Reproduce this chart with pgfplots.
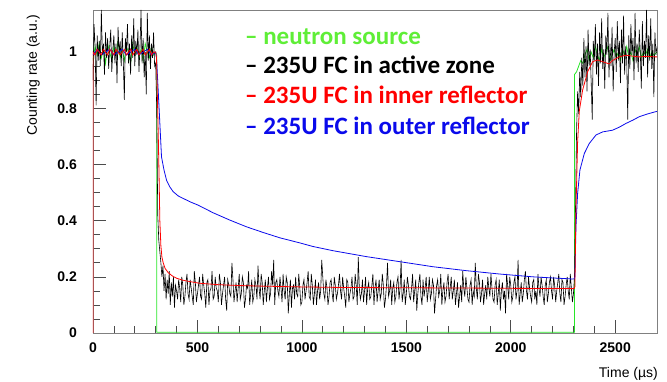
\documentclass[border=0pt]{standalone}
\usepackage{pgfplots}
\pgfplotsset{compat=1.18}
\usepackage{fontspec}
\setmainfont{Liberation Sans}
\newfontfamily\legfont{Carlito}
\definecolor{lgreen}{RGB}{40,230,40}
\definecolor{leggreen}{RGB}{95,238,55}
\definecolor{lblue}{RGB}{10,10,235}
\definecolor{lred}{RGB}{255,0,0}
\begin{document}
\begin{tikzpicture}
\path[use as bounding box] (-93pt,-49pt) rectangle (574pt,333pt);
\begin{axis}[
  at={(0,0)}, anchor=south west,
  scale only axis, width=564pt, height=323pt,
  xmin=0, xmax=2700, ymin=0, ymax=1.15,
  xtick={0,500,1000,1500,2000,2500},
  xticklabels={0,500,1000,1500,2000,2500},
  ytick={0,0.2,0.4,0.6,0.8,1},
  yticklabels={0,0.2,0.4,0.6,0.8,1},
  minor x tick num=4, minor y tick num=3,
  tick align=inside, xtick pos=bottom, ytick pos=left,
  major tick length=13pt, minor tick length=7pt,
  tick style={black!70, line width=0.6pt},
  axis line style={black!50, line width=0.8pt},
  xticklabel style={font=\fontsize{14}{14}\selectfont\bfseries, anchor=north, inner sep=0pt, yshift=-10pt},
  yticklabel style={font=\fontsize{14}{14}\selectfont\bfseries, anchor=east, inner sep=0pt, xshift=-16pt},
  /pgf/number format/assume math mode=true,
  xlabel={Time (µs)},
  xlabel style={at={(axis description cs:1.0018,-0.1393)}, anchor=base east, inner sep=0pt, font=\fontsize{14}{14}\selectfont},
  ylabel={Counting rate (a.u.)},
  ylabel style={at={(axis description cs:-0.0993,0.985)}, anchor=base east, inner sep=0pt, font=\fontsize{14}{14}\selectfont},
]
% neutron source
\addplot[lgreen, line width=0.8pt] coordinates {
(0,0.97) (10,1.02) (20,0.99) (30,1.03) (40,0.98) (50,1.01) (60,0.96) (70,1.03) (80,1.00) (90,0.97)
(100,1.02) (110,0.99) (120,1.04) (130,0.98) (140,1.01) (150,0.97) (160,1.02) (170,1.00) (180,0.96) (190,1.03)
(200,0.99) (210,1.02) (220,0.98) (230,1.01) (240,0.97) (250,1.03) (260,1.00) (270,0.98) (280,1.02) (290,0.99)
(300,1.00) (305,0.99) (305,0.003) (800,0.003) (1500,0.003) (2305,0.003)
(2305,0.92) (2315,0.93) (2325,0.95) (2335,0.97) (2345,0.96) (2355,0.99) (2365,1.01) (2375,0.97) (2385,1.00)
(2395,0.98) (2405,1.02) (2415,0.99) (2425,0.97) (2435,1.01) (2445,0.98) (2455,1.00) (2465,1.02) (2475,0.97)
(2485,0.99) (2495,1.01) (2505,0.98) (2515,1.00) (2525,0.97) (2535,1.01) (2545,0.99) (2555,1.02) (2565,0.98)
(2575,1.00) (2585,0.97) (2595,1.01) (2605,0.99) (2615,1.02) (2625,0.98) (2635,1.00) (2645,0.99) (2655,1.01)
(2665,0.98) (2675,1.00) (2685,0.99) (2700,1.00)
};
% active zone
\addplot[black, line width=0.6pt] coordinates {
(0,0.90) (5,1.10) (10,1.02) (15,0.81) (20,1.06) (25,0.97) (30,1.04) (35,0.95) (40,1.15) (45,0.99)
(50,1.03) (55,0.92) (60,1.07) (65,0.98) (70,1.05) (75,0.94) (80,1.02) (85,1.08) (90,0.93) (95,1.01)
(100,1.06) (105,0.96) (110,1.03) (115,0.89) (120,1.09) (125,0.99) (130,1.04) (135,0.95) (140,1.07) (145,0.97)
(150,0.83) (155,1.05) (160,1.00) (165,1.10) (170,0.96) (175,1.03) (180,0.92) (185,1.06) (190,0.98) (195,1.12)
(200,0.95) (205,1.04) (210,0.99) (215,1.08) (220,0.93) (225,1.02) (230,1.15) (235,0.96) (240,1.05) (245,0.91)
(250,1.00) (255,0.85) (260,1.14) (265,0.97) (270,1.06) (275,0.94) (280,1.03) (285,0.98) (290,1.07) (295,0.95)
(300,0.96) (305,0.80) (310,0.42) (315,0.33) (320,0.29) (325,0.25) (330,0.20) (335,0.24) (340,0.15) (345,0.21)
(350,0.12) (355,0.19) (360,0.14) (365,0.22) (370,0.10) (375,0.18) (380,0.13) (385,0.20) (390,0.09) (395,0.17)
(400,0.15) (405,0.12) (410,0.19) (415,0.16) (420,0.11) (425,0.20) (430,0.17) (435,0.10) (440,0.13) (445,0.18) (450,0.21) (455,0.14) (460,0.12) (465,0.19) (470,0.16) (475,0.13) (480,0.10) (485,0.22) (490,0.18) (495,0.11)
(500,0.14) (505,0.17) (510,0.20) (515,0.13) (520,0.12) (525,0.21) (530,0.17) (535,0.14) (540,0.09) (545,0.18) (550,0.19) (555,0.10) (560,0.15) (565,0.16) (570,0.22) (575,0.12) (580,0.13) (585,0.20) (590,0.16) (595,0.15)
(600,0.11) (605,0.21) (610,0.18) (615,0.10) (620,0.14) (625,0.17) (630,0.20) (635,0.12) (640,0.08) (645,0.19) (650,0.17) (655,0.14) (660,0.13) (665,0.25) (670,0.19) (675,0.11) (680,0.15) (685,0.18) (690,0.11) (695,0.16)
(700,0.21) (705,0.12) (710,0.14) (715,0.20) (720,0.18) (725,0.09) (730,0.12) (735,0.17) (740,0.16) (745,0.22) (750,0.10) (755,0.14) (760,0.19) (765,0.11) (770,0.13) (775,0.19) (780,0.17) (785,0.12) (790,0.24) (795,0.16)
(800,0.12) (805,0.21) (810,0.18) (815,0.10) (820,0.15) (825,0.19) (830,0.11) (835,0.16) (840,0.20) (845,0.12) (850,0.14) (855,0.22) (860,0.17) (865,0.26) (870,0.10) (875,0.18) (880,0.19) (885,0.15) (890,0.13) (895,0.20)
(900,0.16) (905,0.11) (910,0.21) (915,0.15) (920,0.12) (925,0.20) (930,0.18) (935,0.07) (940,0.14) (945,0.19) (950,0.09) (955,0.16) (960,0.17) (965,0.12) (970,0.20) (975,0.14) (980,0.13) (985,0.21) (990,0.16) (995,0.10)
(1000,0.11) (1005,0.17) (1010,0.19) (1015,0.12) (1020,0.15) (1025,0.18) (1030,0.22) (1035,0.13) (1040,0.12) (1045,0.21) (1050,0.17) (1055,0.10) (1060,0.14) (1065,0.19) (1070,0.10) (1075,0.15) (1080,0.18) (1085,0.12) (1090,0.15) (1095,0.26)
(1100,0.20) (1105,0.14) (1110,0.12) (1115,0.19) (1120,0.16) (1125,0.10) (1130,0.13) (1135,0.18) (1140,0.19) (1145,0.14) (1150,0.11) (1155,0.20) (1160,0.17) (1165,0.12) (1170,0.14) (1175,0.17) (1180,0.21) (1185,0.15) (1190,0.12) (1195,0.20)
(1200,0.16) (1205,0.13) (1210,0.09) (1215,0.19) (1220,0.18) (1225,0.11) (1230,0.14) (1235,0.16) (1240,0.20) (1245,0.12) (1250,0.13) (1255,0.21) (1260,0.17) (1265,0.10) (1270,0.27) (1275,0.16) (1280,0.12) (1285,0.14) (1290,0.19) (1295,0.11)
(1300,0.15) (1305,0.20) (1310,0.10) (1315,0.16) (1320,0.18) (1325,0.12) (1330,0.13) (1335,0.17) (1340,0.21) (1345,0.10) (1350,0.16) (1355,0.19) (1360,0.11) (1365,0.15) (1370,0.19) (1375,0.12) (1380,0.14) (1385,0.21) (1390,0.17) (1395,0.09)
(1400,0.12) (1405,0.17) (1410,0.25) (1415,0.13) (1420,0.15) (1425,0.19) (1430,0.10) (1435,0.16) (1440,0.18) (1445,0.11) (1450,0.13) (1455,0.18) (1460,0.20) (1465,0.12) (1470,0.16) (1475,0.26) (1480,0.11) (1485,0.14) (1490,0.19) (1495,0.10)
(1500,0.14) (1505,0.20) (1510,0.17) (1515,0.13) (1520,0.12) (1525,0.16) (1530,0.21) (1535,0.11) (1540,0.15) (1545,0.19) (1550,0.08) (1555,0.14) (1560,0.18) (1565,0.21) (1570,0.13) (1575,0.10) (1580,0.19) (1585,0.13) (1590,0.16) (1595,0.20)
(1600,0.11) (1605,0.15) (1610,0.20) (1615,0.12) (1620,0.14) (1625,0.19) (1630,0.17) (1635,0.07) (1640,0.12) (1645,0.17) (1650,0.19) (1655,0.13) (1660,0.15) (1665,0.21) (1670,0.10) (1675,0.15) (1680,0.18) (1685,0.11) (1690,0.13) (1695,0.18)
(1700,0.21) (1705,0.12) (1710,0.16) (1715,0.20) (1720,0.12) (1725,0.15) (1730,0.19) (1735,0.10) (1740,0.14) (1745,0.18) (1750,0.09) (1755,0.13) (1760,0.17) (1765,0.11) (1770,0.22) (1775,0.16) (1780,0.13) (1785,0.20) (1790,0.16) (1795,0.12)
(1800,0.11) (1805,0.17) (1810,0.19) (1815,0.10) (1820,0.15) (1825,0.13) (1830,0.25) (1835,0.16) (1840,0.12) (1845,0.21) (1850,0.18) (1855,0.11) (1860,0.14) (1865,0.19) (1870,0.10) (1875,0.14) (1880,0.17) (1885,0.12) (1890,0.20) (1895,0.16)
(1900,0.13) (1905,0.21) (1910,0.16) (1915,0.12) (1920,0.11) (1925,0.17) (1930,0.19) (1935,0.10) (1940,0.14) (1945,0.19) (1950,0.08) (1955,0.15) (1960,0.18) (1965,0.12) (1970,0.15) (1975,0.07) (1980,0.21) (1985,0.17) (1990,0.12) (1995,0.20)
(2000,0.17) (2005,0.11) (2010,0.13) (2015,0.18) (2020,0.20) (2025,0.12) (2030,0.15) (2035,0.26) (2040,0.10) (2045,0.14) (2050,0.18) (2055,0.11) (2060,0.14) (2065,0.19) (2070,0.22) (2075,0.15) (2080,0.12) (2085,0.20) (2090,0.16) (2095,0.13)
(2100,0.11) (2105,0.18) (2110,0.19) (2115,0.12) (2120,0.15) (2125,0.10) (2130,0.21) (2135,0.16) (2140,0.13) (2145,0.20) (2150,0.17) (2155,0.13) (2160,0.10) (2165,0.17) (2170,0.19) (2175,0.11) (2180,0.14) (2185,0.18) (2190,0.20) (2195,0.15)
(2200,0.12) (2205,0.20) (2210,0.17) (2215,0.11) (2220,0.15) (2225,0.18) (2230,0.21) (2235,0.14) (2240,0.11) (2245,0.19) (2250,0.18) (2255,0.10) (2260,0.13) (2265,0.17) (2270,0.20) (2275,0.15) (2280,0.12) (2285,0.21) (2290,0.16) (2295,0.11)
(2300,0.14) (2305,0.20) (2310,0.45) (2315,0.72) (2320,0.86) (2325,0.78) (2330,0.93) (2335,0.84) (2340,0.98) (2345,0.88)
(2350,1.05) (2355,0.91) (2360,1.02) (2365,0.86) (2370,1.08) (2375,0.95) (2380,1.01) (2385,0.89) (2390,0.76) (2395,1.04)
(2400,0.97) (2405,1.10) (2410,0.92) (2415,1.03) (2420,0.88) (2425,1.07) (2430,0.96) (2435,1.12) (2440,0.94) (2445,1.01)
(2450,0.87) (2455,1.06) (2460,0.99) (2465,1.14) (2470,0.91) (2475,1.03) (2480,0.95) (2485,1.09) (2490,0.86) (2495,1.00)
(2500,1.05) (2505,0.93) (2510,1.11) (2515,0.97) (2520,1.04) (2525,0.89) (2530,1.08) (2535,0.96) (2540,1.13) (2545,0.92)
(2550,1.02) (2555,0.97) (2560,0.76) (2565,1.06) (2570,0.94) (2575,1.10) (2580,0.99) (2585,1.05) (2590,0.90) (2595,1.14)
(2600,0.96) (2605,1.03) (2610,0.93) (2615,1.08) (2620,1.00) (2625,0.87) (2630,1.11) (2635,0.95) (2640,1.04) (2645,0.98)
(2650,1.15) (2655,0.91) (2660,1.06) (2665,0.97) (2670,1.12) (2675,0.94) (2680,1.03) (2685,0.84) (2690,1.07) (2695,0.99)
(2700,1.02)
};
% outer reflector
\addplot[lblue, line width=0.8pt] coordinates {
(0,0.99) (20,1.01) (40,0.99) (60,1.00) (80,1.01) (100,0.99) (120,1.00) (140,1.01) (160,0.99) (180,1.00)
(200,1.01) (220,0.99) (240,1.00) (260,1.01) (280,0.99) (300,1.00) (304,0.98) (312,0.865) (320,0.747)
(328,0.627) (340,0.58) (352,0.544) (368,0.52) (384,0.503) (408,0.488) (432,0.479) (468,0.466) (504,0.455)
(575,0.428) (655,0.402) (735,0.378) (814,0.358) (894,0.339) (989,0.321) (1053,0.308) (1149,0.293)
(1308,0.272) (1468,0.254) (1627,0.236) (1786,0.222) (1946,0.210) (2105,0.200) (2200,0.196) (2303,0.192)
(2307,0.20) (2312,0.378) (2320,0.497) (2331,0.58) (2352,0.639) (2376,0.675) (2408,0.705) (2440,0.716)
(2487,0.722) (2520,0.733) (2551,0.746) (2585,0.758) (2615,0.770) (2655,0.780) (2694,0.788) (2700,0.789)
};
% inner reflector
\addplot[lred, line width=0.8pt] coordinates {
(0,0) (0,1.00) (10,0.99) (20,1.01) (30,1.00) (40,0.99) (50,1.01) (60,1.00) (70,0.99) (80,1.01) (90,1.00)
(100,0.99) (110,1.01) (120,1.00) (130,0.99) (140,1.00) (150,1.01) (160,0.99) (170,1.00) (180,1.01) (190,0.99)
(200,1.00) (210,1.01) (220,0.99) (230,1.00) (240,1.01) (250,0.99) (260,1.00) (270,1.01) (280,0.99) (290,1.00)
(300,1.00) (304,0.98) (308,0.85) (312,0.72) (316,0.57) (320,0.40) (325,0.31) (330,0.27) (336,0.25)
(345,0.23) (360,0.215) (380,0.203) (400,0.195) (430,0.188) (464,0.183) (511,0.177) (600,0.172)
(700,0.169) (800,0.167) (1000,0.164) (1200,0.162) (1500,0.161) (1800,0.160) (2000,0.159) (2303,0.158)
(2307,0.165) (2312,0.44) (2320,0.68) (2328,0.79) (2344,0.865) (2368,0.93) (2392,0.966) (2416,0.972)
(2440,0.966) (2471,0.958) (2487,0.97) (2519,0.983) (2551,0.989) (2580,0.986) (2615,0.983) (2650,0.985)
(2694,0.983) (2700,0.983)
};
\node[anchor=base west, inner sep=0pt, text=leggreen, font=\legfont\bfseries\fontsize{25}{25}\selectfont] at (axis description cs:0.2695,0.8947) {– neutron source};
\node[anchor=base west, inner sep=0pt, text=black, font=\legfont\bfseries\fontsize{25}{25}\selectfont] at (axis description cs:0.2695,0.8019) {– 235U FC in active zone};
\node[anchor=base west, inner sep=0pt, text=lred, font=\legfont\bfseries\fontsize{25}{25}\selectfont] at (axis description cs:0.2695,0.709) {– 235U FC in inner reflector};
\node[anchor=base west, inner sep=0pt, text=lblue, font=\legfont\bfseries\fontsize{25}{25}\selectfont] at (axis description cs:0.2695,0.616) {– 235U FC in outer reflector};
\end{axis}
\end{tikzpicture}
\end{document}
